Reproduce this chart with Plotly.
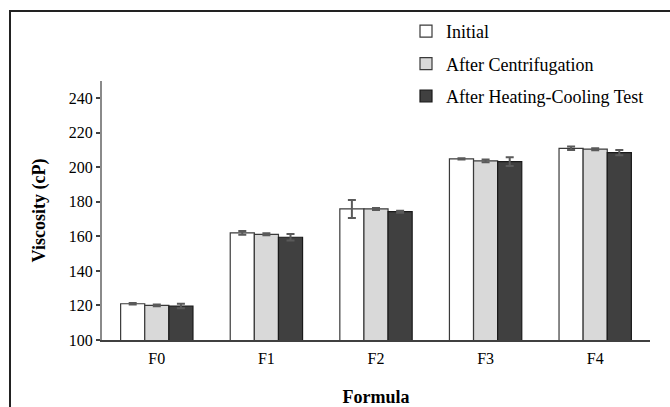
import plotly.graph_objects as go

categories = ["F0", "F1", "F2", "F3", "F4"]
initial = [121.0, 162.0, 175.9, 204.9, 211.0]
initial_err = [0.5, 1.1, 5.2, 0.3, 1.0]
centrifugation = [120.1, 161.2, 175.9, 203.7, 210.5]
centrifugation_err = [0.5, 0.6, 0.6, 0.8, 0.6]
heating_cooling = [119.7, 159.5, 174.3, 203.3, 208.5]
heating_cooling_err = [1.3, 1.9, 0.6, 2.5, 1.5]

series = [
    ("Initial", initial, initial_err, "#ffffff", "#3a3a3a"),
    ("After Centrifugation", centrifugation, centrifugation_err, "#d9d9d9", "#3a3a3a"),
    ("After Heating-Cooling Test", heating_cooling, heating_cooling_err, "#404040", "#1a1a1a"),
]

FONT = "'Liberation Serif', 'Times New Roman', serif"

fig = go.Figure()
for name, vals, errs, fill, line in series:
    fig.add_trace(go.Bar(
        name=name, x=categories, y=vals, legendgroup=name,
        marker=dict(color=fill, line=dict(color=line, width=1.2)),
        error_y=dict(type="data", array=errs, visible=True,
                     color="#5a5a5a", thickness=2, width=4),
    ))

W, H = 670, 407
L, R, T, B = 102, 20, 81, 67
pw, ph = W - L - R, H - T - B

def px_x(p):
    return (p - L) / pw

def px_y(p):
    return (H - B - p) / ph

frame = dict(color="#222222", width=2)

fig.update_layout(
    width=W, height=H,
    margin=dict(l=L, r=R, t=T, b=B, pad=0),
    paper_bgcolor="white", plot_bgcolor="white",
    barmode="group", bargap=0.34, bargroupgap=0,
    font=dict(family=FONT, color="#000000", size=16),
    showlegend=True,
    legend=dict(
        x=px_x(406), y=px_y(13), xanchor="left", yanchor="top",
        font=dict(family=FONT, size=18, color="#000000"),
        traceorder="grouped", tracegroupgap=6,
        bgcolor="rgba(0,0,0,0)", itemwidth=30,
    ),
    xaxis=dict(
        automargin=False,
        showline=True, linecolor="#404040", linewidth=1.5,
        ticks="outside", ticklen=3, tickcolor="rgba(0,0,0,0)",
        tickfont=dict(family=FONT, size=16),
        title=dict(text="<b>Formula</b>", font=dict(family=FONT, size=18), standoff=30),
        showgrid=False, zeroline=False,
    ),
    yaxis=dict(
        automargin=False,
        range=[100, 250], dtick=20, tick0=100,
        showline=True, linecolor="#8a8a8a", linewidth=2,
        ticks="outside", ticklen=4, tickcolor="#404040", tickwidth=1.5,
        tickfont=dict(family=FONT, size=16),
        title=dict(text="<b>Viscosity (cP)</b>", font=dict(family=FONT, size=18), standoff=18),
        showgrid=False, zeroline=False,
    ),
    shapes=[
        dict(type="line", xref="paper", yref="paper",
             x0=px_x(10), x1=px_x(10), y0=px_y(407), y1=px_y(11), line=frame),
        dict(type="line", xref="paper", yref="paper",
             x0=px_x(9), x1=px_x(670), y0=px_y(11), y1=px_y(11), line=frame),
    ],
)

fig.write_html(
    "out.html",
    config={"displayModeBar": False},
    post_script="document.body.style.margin='0';",
)
